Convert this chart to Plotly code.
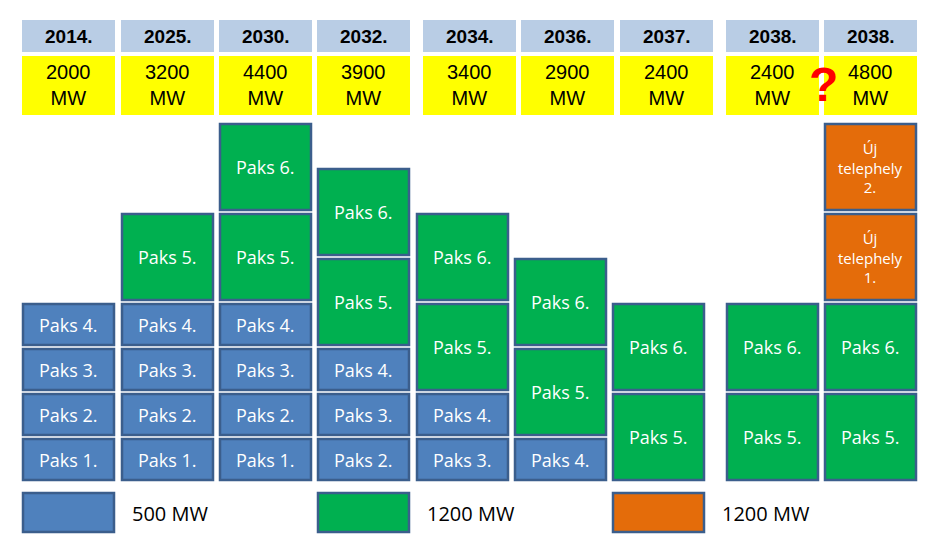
import plotly.graph_objects as go

YEARS = ["2014.", "2025.", "2030.", "2032.", "2034.", "2036.", "2037.", "2038.", "2038."]
CAPACITY = ["2000<br>MW", "3200<br>MW", "4400<br>MW", "3900<br>MW", "3400<br>MW",
            "2900<br>MW", "2400<br>MW", "2400<br>MW", "4800<br>MW"]
# stacks from bottom: (label, kind)
STACKS = [
    [("Paks 1.", "b"), ("Paks 2.", "b"), ("Paks 3.", "b"), ("Paks 4.", "b")],
    [("Paks 1.", "b"), ("Paks 2.", "b"), ("Paks 3.", "b"), ("Paks 4.", "b"), ("Paks 5.", "g")],
    [("Paks 1.", "b"), ("Paks 2.", "b"), ("Paks 3.", "b"), ("Paks 4.", "b"), ("Paks 5.", "g"), ("Paks 6.", "g")],
    [("Paks 2.", "b"), ("Paks 3.", "b"), ("Paks 4.", "b"), ("Paks 5.", "g"), ("Paks 6.", "g")],
    [("Paks 3.", "b"), ("Paks 4.", "b"), ("Paks 5.", "g"), ("Paks 6.", "g")],
    [("Paks 4.", "b"), ("Paks 5.", "g"), ("Paks 6.", "g")],
    [("Paks 5.", "g"), ("Paks 6.", "g")],
    [("Paks 5.", "g"), ("Paks 6.", "g")],
    [("Paks 5.", "g"), ("Paks 6.", "g"), ("Új<br>telephely<br>1.", "o"), ("Új<br>telephely<br>2.", "o")],
]
LEGEND = [("b", "500 MW"), ("g", "1200 MW"), ("o", "1200 MW")]

HEAD_X = [22, 121, 219, 317, 423, 521, 620, 726, 824]
BLOCK_X = [22, 121, 219, 317, 416, 514, 612, 726, 824]
COL_W = 93
UNITS = {"b": 1, "g": 2, "o": 2}
FILL = {"b": "#4F81BD", "g": "#00B050", "o": "#E46C0A"}
BORDER = "#3B5E8C"
BASE, UNIT, GAP = 480, 45, 4
PAGE_OFF = 8  # body margin of the html page

fig = go.Figure()
shapes, annots = [], []

for i, (yr, cap) in enumerate(zip(YEARS, CAPACITY)):
    x0 = HEAD_X[i]
    shapes.append(dict(type="rect", x0=x0, x1=x0 + COL_W, y0=20, y1=52,
                       fillcolor="#B9CDE5", line_width=0, layer="below"))
    shapes.append(dict(type="rect", x0=x0, x1=x0 + COL_W, y0=56, y1=115,
                       fillcolor="#FFFF00", line_width=0, layer="below"))
    annots.append(dict(x=x0 + COL_W / 2, y=36, text="<b>" + yr + "</b>", showarrow=False,
                       font=dict(family="Liberation Sans", size=19, color="black")))
    annots.append(dict(x=x0 + COL_W / 2, y=85, text=cap, showarrow=False,
                       font=dict(family="Liberation Sans", size=20, color="black")))

    bottom = BASE
    bx = BLOCK_X[i]
    for label, kind in STACKS[i]:
        top = bottom - UNITS[kind] * UNIT
        shapes.append(dict(type="rect", x0=bx + 1, x1=bx + COL_W - 1, y0=top + GAP, y1=bottom,
                           fillcolor=FILL[kind], line=dict(color=BORDER, width=2.5)))
        annots.append(dict(x=bx + COL_W / 2, y=(top + GAP + bottom) / 2, text=label,
                           showarrow=False,
                           font=dict(family="Open Sans", size=15 if kind == "o" else 18,
                                     color="white")))
        bottom = top

annots.append(dict(x=823, y=84, text="<b>?</b>", showarrow=False,
                   font=dict(family="Liberation Sans", size=48, color="red")))

for j, (kind, txt) in enumerate(LEGEND):
    lx = [22, 317, 612][j]
    shapes.append(dict(type="rect", x0=lx + 1, x1=lx + COL_W - 1, y0=493, y1=532,
                       fillcolor=FILL[kind], line=dict(color=BORDER, width=2.5)))
    annots.append(dict(x=lx + 108, y=513, text=txt, showarrow=False, xanchor="left",
                       font=dict(family="Open Sans", size=20, color="black")))

fig.update_layout(
    width=933, height=540, margin=dict(l=0, r=0, t=0, b=0),
    plot_bgcolor="white", paper_bgcolor="white",
    xaxis=dict(range=[PAGE_OFF, 933 + PAGE_OFF], visible=False, fixedrange=True),
    yaxis=dict(range=[540 + PAGE_OFF, PAGE_OFF], visible=False, fixedrange=True),
    shapes=shapes, annotations=annots, showlegend=False,
)
fig.write_html("out.html")
